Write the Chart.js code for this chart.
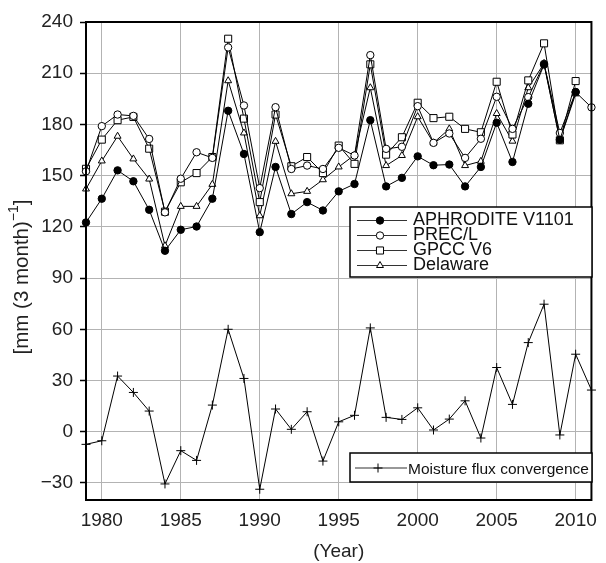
<!DOCTYPE html>
<html>
<head>
<meta charset="utf-8">
<script src="https://cdn.jsdelivr.net/npm/chart.js@4/dist/chart.umd.min.js"></script>
<style>
  body { margin: 0; background: #fff; }
  canvas { display: block; }
</style>
</head>
<body>
<canvas id="myChart" width="606" height="563"></canvas>
<script>
var years = [1979, 1980, 1981, 1982, 1983, 1984, 1985, 1986, 1987, 1988, 1989,
             1990, 1991, 1992, 1993, 1994, 1995, 1996, 1997, 1998, 1999, 2000,
             2001, 2002, 2003, 2004, 2005, 2006, 2007, 2008, 2009, 2010, 2011];

var aphrodite = [122.6, 136.5, 153.1, 146.7, 130, 106, 118.3, 120.2, 136.5, 188, 162.7,
                 116.9, 155.1, 127.5, 134.5, 129.6, 140.8, 145.1, 182.5, 143.7, 148.7, 161.3,
                 156.1, 156.5, 143.7, 155.1, 181, 158, 192.1, 215.1, 171, 199, null];
var precl = [152.5, 179, 185.8, 185, 171.5, 128.5, 148.2, 163.7, 160.4, 225.1, 191.1,
             142.7, 190.1, 153.9, 155.9, 153.9, 166.3, 161.8, 220.6, 165.7, 166.9, 190.7,
             169.2, 174.7, 160.4, 171.6, 196.2, 177.4, 196, 215.5, 175, 198.9, 190];
var gpcc = [154, 171.1, 182.5, 184.4, 165.8, 128.9, 146.1, 151.5, 160.9, 230.2, 183.4,
            134.5, 185.8, 155.5, 160.9, 151.5, 167.6, 156.9, 215.2, 162.3, 172.5, 192.7,
            183.7, 184.5, 177.4, 175.4, 205, 174.1, 205.8, 227.5, 170.7, 205.4, null];
var delaware = [142.2, 158.6, 173.1, 159.8, 148, 108.9, 132, 132, 144.9, 205.6, 175,
                126.5, 170.1, 139.4, 140.8, 147.6, 155.1, 162.1, 201.5, 155.9, 161.8, 184.5,
                169.2, 177.4, 155.9, 158.4, 186.4, 170.2, 201.5, 215.7, 170.7, 197.9, null];
var moisture = [-7.4, -5.3, 32.6, 23, 12.1, -30.6, -11.1, -16.8, 15.6, 60, 31.2,
                -33.7, 13.3, 1.4, 11.7, -17.2, 5.8, 9.6, 60.8, 8.4, 7.2, 14,
                1, 7.4, 18.1, -3.7, 37.6, 16, 52.2, 74.7, -1.9, 45.4, 24.4];

var yTicks = [-30, 0, 30, 60, 90, 120, 150, 180, 210, 240];
var xTicks = [1980, 1985, 1990, 1995, 2000, 2005, 2010];

var FONT = '"Liberation Sans", Arial, Helvetica, sans-serif';

function toPoints(values) {
    return years.map(function (yr, i) { return { x: yr, y: values[i] }; });
}

function series(label, values, style, radius, fill) {
    return {
        label: label,
        data: toPoints(values),
        borderColor: '#000',
        borderWidth: 1,
        pointStyle: style,
        pointRadius: radius,
        pointBackgroundColor: fill,
        pointBorderColor: '#000',
        pointBorderWidth: 1,
        tension: 0,
        spanGaps: false,
        clip: false
    };
}

// little marker drawer for the legend boxes
function marker(ctx, style, x, y, r, fill) {
    ctx.save();
    ctx.lineWidth = 1;
    ctx.strokeStyle = '#000';
    ctx.fillStyle = fill;
    ctx.beginPath();
    if (style === 'circle') {
        ctx.arc(x, y, r, 0, Math.PI * 2);
        ctx.fill(); ctx.stroke();
    } else if (style === 'rect') {
        var s = r * Math.SQRT1_2;
        ctx.rect(x - s, y - s, 2 * s, 2 * s);
        ctx.fill(); ctx.stroke();
    } else if (style === 'triangle') {
        ctx.moveTo(x, y - r);
        ctx.lineTo(x + r * 0.866, y + r * 0.5);
        ctx.lineTo(x - r * 0.866, y + r * 0.5);
        ctx.closePath();
        ctx.fill(); ctx.stroke();
    } else if (style === 'cross') {
        ctx.moveTo(x, y - r); ctx.lineTo(x, y + r);
        ctx.moveTo(x - r, y); ctx.lineTo(x + r, y);
        ctx.stroke();
    }
    ctx.restore();
}

var framePlugin = {
    id: 'frame',
    afterDraw: function (chart) {
        var ctx = chart.ctx, a = chart.chartArea;
        ctx.save();
        ctx.strokeStyle = '#000';
        ctx.lineWidth = 2;
        ctx.strokeRect(a.left, a.top, a.right - a.left, a.bottom - a.top);

        // legend for the precipitation datasets
        ctx.lineWidth = 1.5;
        ctx.fillStyle = '#fff';
        ctx.fillRect(350, 207, 242, 70);
        ctx.strokeRect(350, 207, 242, 70);
        var rows = [220.5, 235.5, 250.5, 265.5];
        for (var i = 0; i < 4; i++) {
            var ds = chart.data.datasets[i];
            ctx.strokeStyle = '#333';
            ctx.lineWidth = 1.2;
            ctx.beginPath();
            ctx.moveTo(357, rows[i]); ctx.lineTo(407, rows[i]);
            ctx.stroke();
            marker(ctx, ds.pointStyle, 380, rows[i], ds.pointRadius, ds.pointBackgroundColor);
            ctx.fillStyle = '#111';
            ctx.font = '18px ' + FONT;
            ctx.textBaseline = 'alphabetic';
            ctx.textAlign = 'left';
            ctx.fillText(ds.label, 413, rows[i] + 4.5);
        }

        // legend for moisture flux convergence
        var m = chart.data.datasets[4];
        ctx.strokeStyle = '#000';
        ctx.lineWidth = 1.5;
        ctx.fillStyle = '#fff';
        ctx.fillRect(350, 453, 242, 29);
        ctx.strokeRect(350, 453, 242, 29);
        ctx.strokeStyle = '#333';
        ctx.lineWidth = 1.2;
        ctx.beginPath();
        ctx.moveTo(355, 468); ctx.lineTo(407, 468);
        ctx.stroke();
        marker(ctx, 'cross', 378, 468, m.pointRadius, '#000');
        ctx.fillStyle = '#111';
        ctx.font = '15.5px ' + FONT;
        ctx.fillText(m.label, 408, 474);

        // y axis title with superscript
        ctx.translate(0, 277);
        ctx.rotate(-Math.PI / 2);
        var main = '[mm (3 month)';
        ctx.font = '20.5px ' + FONT;
        var w1 = ctx.measureText(main).width;
        ctx.font = '14px ' + FONT;
        var w2 = ctx.measureText('\u22121').width;
        ctx.font = '20.5px ' + FONT;
        var w3 = ctx.measureText(']').width;
        var x0 = -(w1 + w2 + w3) / 2;
        ctx.textBaseline = 'alphabetic';
        ctx.fillStyle = '#222';
        ctx.fillText(main, x0, 28);
        ctx.font = '14px ' + FONT;
        ctx.fillText('\u22121', x0 + w1, 18);
        ctx.font = '20.5px ' + FONT;
        ctx.fillText(']', x0 + w1 + w2, 28);
        ctx.restore();
    }
};

var ctx2 = document.getElementById('myChart').getContext('2d');
var chart = new Chart(ctx2, {
    type: 'line',
    data: {
        datasets: [
            series('APHRODITE V1101', aphrodite, 'circle', 3.7, '#000'),
            series('PREC/L', precl, 'circle', 3.7, '#fff'),
            series('GPCC V6', gpcc, 'rect', 5, '#fff'),
            series('Delaware', delaware, 'triangle', 4, '#fff'),
            series('Moisture flux convergence', moisture, 'cross', 4.5, '#000')
        ]
    },
    options: {
        responsive: false,
        animation: false,
        layout: { padding: { left: 0, top: 22, right: 7, bottom: 0 } },
        plugins: {
            legend: { display: false },
            tooltip: { enabled: false }
        },
        scales: {
            x: {
                type: 'linear',
                min: 1979,
                max: 2011,
                afterBuildTicks: function (scale) {
                    scale.ticks = xTicks.map(function (v) { return { value: v }; });
                },
                afterFit: function (scale) { scale.height = 63; },
                grid: {
                    color: '#b3b3b3',
                    lineWidth: 1,
                    borderDash: [1.5, 4],
                    drawTicks: false
                },
                border: { display: false },
                ticks: {
                    padding: 9,
                    color: '#222',
                    font: { family: FONT, size: 19 },
                    maxRotation: 0,
                    callback: function (v) { return String(v); }
                },
                title: {
                    display: true,
                    text: '(Year)',
                    color: '#222',
                    font: { family: FONT, size: 19 },
                    padding: { top: 0, bottom: 0 }
                }
            },
            y: {
                type: 'linear',
                min: -40,
                max: 240,
                afterBuildTicks: function (scale) {
                    scale.ticks = yTicks.map(function (v) { return { value: v }; });
                },
                afterFit: function (scale) { scale.width = 86; },
                grid: {
                    color: '#b3b3b3',
                    lineWidth: 1,
                    borderDash: [1.5, 4],
                    drawTicks: true,
                    tickLength: 6,
                    tickColor: '#000',
                    tickWidth: 1.5
                },
                border: { display: false },
                ticks: {
                    padding: 7,
                    color: '#222',
                    font: { family: FONT, size: 19 },
                    callback: function (v) { return v < 0 ? '\u2212' + Math.abs(v) : String(v); }
                }
            }
        }
    },
    plugins: [framePlugin]
});
</script>
</body>
</html>
